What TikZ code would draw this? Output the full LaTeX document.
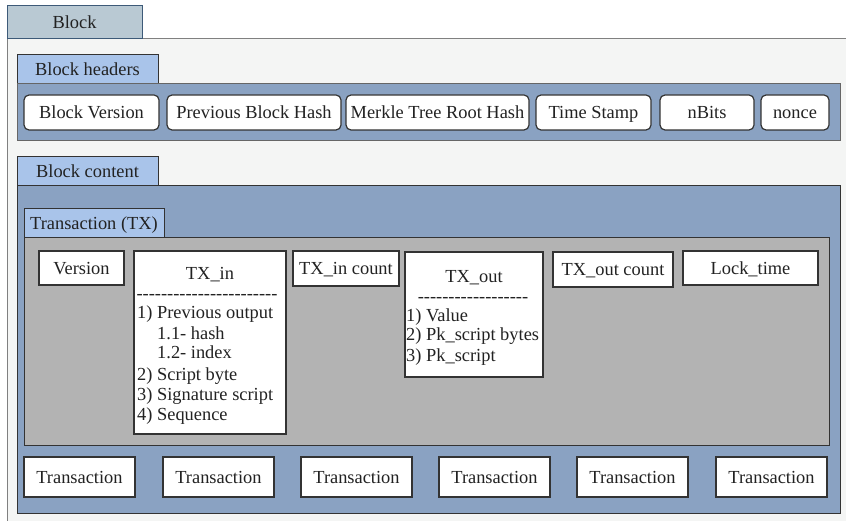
\documentclass[tikz,border=0pt]{standalone}
\usepackage{fontspec}
\setmainfont{Liberation Serif}
\definecolor{pagebg}{HTML}{F4F5F4}
\definecolor{tabgrey}{HTML}{B9C9D3}
\definecolor{tabblue}{HTML}{A9C4EA}
\definecolor{panelblue}{HTML}{8AA2C2}
\definecolor{panelgrey}{HTML}{B3B3B3}
\definecolor{inkdark}{HTML}{222222}
\definecolor{edgedark}{HTML}{333333}
\definecolor{edgeblue}{HTML}{3D5A78}
% a run of separate hyphens (kerns keep them from merging into dashes)
\newcommand\hyphenrun[1]{\foreach \k in {1,...,#1}{-\kern0pt}}
\begin{document}
\begin{tikzpicture}[x=1pt,y=-1pt,
  every node/.style={font=\fontsize{18.4}{20}\selectfont, text=inkdark, inner sep=0pt,
    text height=13pt, text depth=0.8pt},
  box/.style={draw=edgedark, line width=1.2pt, fill=white, minimum width=#1},
  hbox/.style={box=#1, rounded corners=5pt, minimum height=35pt},
  tbox/.style={box=#1, minimum height=34pt},
  txbox/.style={box=111pt, minimum height=40pt},
  tab/.style={draw=edgedark, line width=1pt, fill=tabblue, minimum width=#1, minimum height=29pt},
  panel/.style={line width=1pt, minimum width=#1},
  listline/.style={anchor=base west}]
\useasboundingbox (0,0) rectangle (846,521);
\fill[white] (0,0) rectangle (846,521);

% outer block frame (runs off the right and bottom edges)
\fill[pagebg] (7,39) rectangle (846,521);
\draw[gray, line width=1pt] (7,521) -- (7,39) -- (846,39);
\node[draw=edgeblue, line width=1pt, fill=tabgrey, minimum width=135pt, minimum height=33pt] (blocktab) at (74.5,22.5) {Block};

% block headers
\node[tab=141pt] (hdrtab) at (87.5,69.5) {Block headers};
\node[panel=823.5pt, draw=gray!80!black, fill=panelblue, minimum height=57pt] (hdrpanel) at (428.75,112.5) {};
\node[hbox=135pt] (bver)   at (91.5,112.5)  {Block Version};
\node[hbox=174pt] (prev)   at (254,112.5)   {Previous Block Hash};
\node[hbox=183pt] (merkle) at (437.5,112.5) {Merkle Tree Root Hash};
\node[hbox=115pt] (tstamp) at (593.5,112.5) {Time Stamp};
\node[hbox=94pt]  (nbits)  at (707,112.5)   {nBits};
\node[hbox=68pt]  (nonce)  at (795,112.5)   {nonce};

% block content
\node[tab=141pt] (cnttab) at (87.5,171.5) {Block content};
\node[panel=823.5pt, draw=edgedark, fill=panelblue, minimum height=327pt] (cntpanel) at (428.75,349.5) {};

% one transaction in detail
\node[tab=140pt] (txtab) at (94,223.5) {Transaction (TX)};
\node[panel=805pt, draw=edgedark, fill=panelgrey, minimum height=207pt] (txpanel) at (426.5,341.5) {};

\node[tbox=85pt]  (version) at (81.5,268)  {Version};
\node[box=152pt, minimum height=183pt] (txin) at (210,342.5) {};
\node[box=106pt, minimum height=35pt] (txincount) at (346,268.5) {TX\_in count};
\node[box=138pt, minimum height=125pt] (txout) at (474,314.5) {};
\node[box=120pt, minimum height=35pt] (txoutcount) at (613,269.5) {TX\_out count};
\node[tbox=135pt] (locktime) at (750.5,268) {Lock\_time};

% TX_in fields
\node (txintitle) at (210,273) {TX\_in};
\node (txinrule)  at (207,293) {\hyphenrun{23}};
\node[listline] (in1)  at (137,319) {1) Previous output};
\node[listline] (in11) at (157,339) {1.1- hash};
\node[listline] (in12) at (157,359) {1.2- index};
\node[listline] (in2)  at (137,380) {2) Script byte};
\node[listline] (in3)  at (137,400) {3) Signature script};
\node[listline] (in4)  at (137,420) {4) Sequence};

% TX_out fields
\node (txouttitle) at (474,276) {TX\_out};
\node (txoutrule)  at (473,296) {\hyphenrun{18}};
\node[listline] (out1) at (406,322) {1) Value};
\node[listline] (out2) at (406,341) {2) Pk\_script bytes};
\node[listline] (out3) at (406,361) {3) Pk\_script};

% list of transactions
\node[txbox] (tx1) at (79.5,477)  {Transaction};
\node[txbox] (tx2) at (218.5,477) {Transaction};
\node[txbox] (tx3) at (356.5,477) {Transaction};
\node[txbox] (tx4) at (494.5,477) {Transaction};
\node[txbox] (tx5) at (632.5,477) {Transaction};
\node[txbox] (tx6) at (771.5,477) {Transaction};
\end{tikzpicture}
\end{document}
